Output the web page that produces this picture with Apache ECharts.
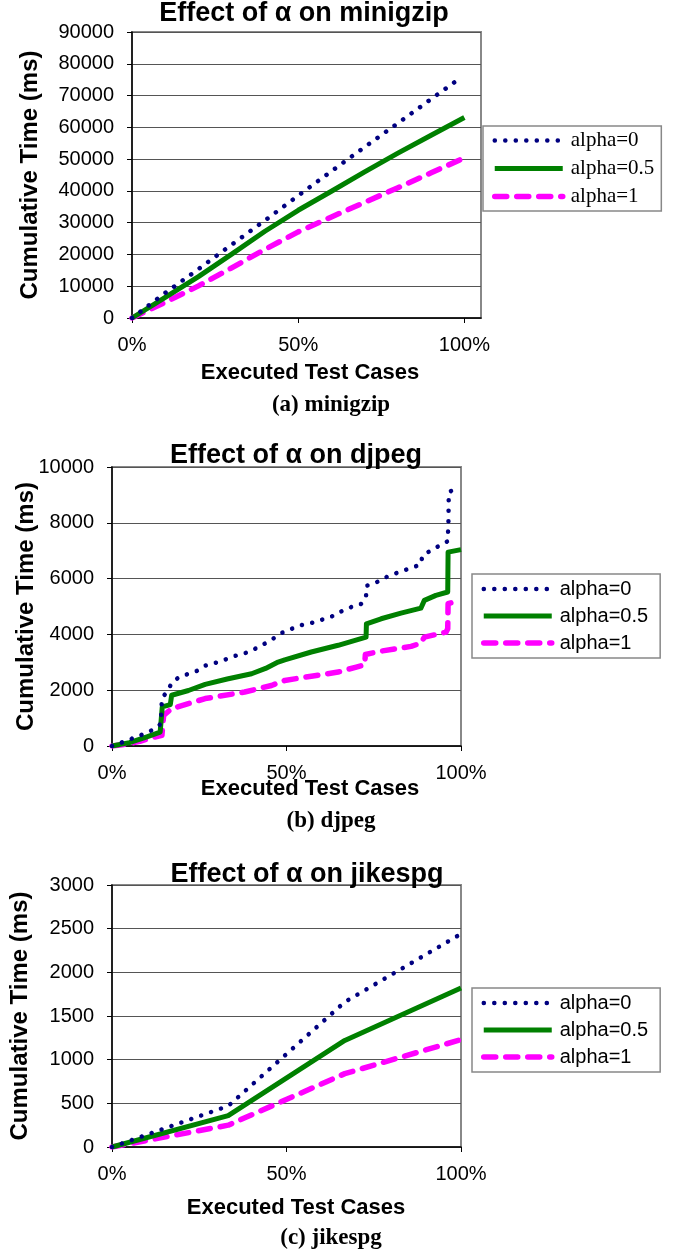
<!DOCTYPE html>
<html>
<head>
<meta charset="utf-8">
<script src="https://cdn.jsdelivr.net/npm/echarts@6/dist/echarts.min.js"></script>
<style>
  html, body { margin: 0; padding: 0; background: #fff; }
  #main { width: 673px; height: 1254px; }
</style>
</head>
<body>
<div id="main"></div>
<script>
// 数据：执行用例百分比 -> 累计时间(ms)
const seriesNames = ['alpha=0', 'alpha=0.5', 'alpha=1'];
const xTicks = [0, 50, 100];

// (a) minigzip
const minigzipA0 = [[0, 0], [10, 7900], [20, 15400], [30, 23100], [40, 30700], [50, 38500], [60, 46200], [70, 53800], [80, 61300], [90, 68900], [97.7, 74700]];
const minigzipA05 = [[0, 0], [10, 6500], [20, 13000], [30, 20100], [40, 27300], [50, 33900], [60, 39900], [70, 46000], [80, 51900], [90, 57500], [100, 63100]];
const minigzipA1 = [[0, 0], [10, 4950], [20, 10100], [30, 15800], [40, 21600], [50, 27100], [60, 31800], [70, 36400], [80, 41000], [90, 45700], [100, 50400]];

// (b) djpeg
const djpegA0 = [[0, 0], [3.8, 170], [10.5, 500], [13, 680], [14, 800], [14.3, 1720], [15.9, 1960], [17.1, 2260], [19, 2450], [21.7, 2580], [24.3, 2690], [26.7, 2880], [30.5, 3010], [33.3, 3140], [36.2, 3270], [39, 3360], [41.4, 3510], [43.8, 3670], [46.2, 3850], [48.6, 4050], [51.1, 4180], [53.8, 4320], [55.2, 4360], [58.1, 4440], [60.9, 4560], [63.8, 4680], [66.2, 4860], [69, 5000], [71.6, 5100], [72.8, 5360], [72.9, 5740], [75.7, 5860], [78.1, 6030], [80.8, 6160], [82.8, 6260], [85.7, 6380], [88.4, 6500], [89, 6830], [91.4, 7010], [93.8, 7180], [96.2, 7340], [96.4, 8000], [96.5, 9100], [99.6, 9280]];
const djpegA05 = [[0, 0], [5, 120], [10, 330], [13.8, 500], [14.3, 560], [14.4, 1400], [16.7, 1480], [17.1, 1820], [21.9, 1990], [26.7, 2210], [33, 2400], [40, 2590], [44, 2780], [47.6, 3010], [49.5, 3090], [57.1, 3370], [64.8, 3610], [72.8, 3900], [72.9, 4380], [77.1, 4560], [82.8, 4760], [88.5, 4940], [89.5, 5220], [92.8, 5400], [96.2, 5520], [96.3, 6950], [100, 7040]];
const djpegA1 = [[0, 0], [4, 60], [8, 170], [11, 280], [14.3, 380], [14.8, 1100], [17.1, 1340], [26.7, 1700], [38, 1935], [45.7, 2170], [49.5, 2350], [57.1, 2500], [64.8, 2650], [70, 2830], [72.4, 2910], [72.6, 3280], [77.1, 3400], [85.7, 3570], [88.5, 3690], [89.5, 3900], [95.7, 4080], [96.2, 4200], [96.3, 5100], [99.5, 5220]];

// (c) jikespg
const jikespgA0 = [[0, 0], [33.3, 470], [66.7, 1660], [100, 2440]];
const jikespgA05 = [[0, 0], [33.3, 360], [66.7, 1220], [100, 1820]];
const jikespgA1 = [[0, 0], [33.3, 250], [66.7, 840], [100, 1230]];

const titles = ['Effect of α on minigzip', 'Effect of α on djpeg', 'Effect of α on jikespg'];
const captions = ['(a) minigzip', '(b) djpeg', '(c) jikespg'];

const SANS = 'Liberation Sans, Arial, sans-serif';
const SERIF = 'Liberation Serif, Times New Roman, serif';

// 线型：点线 / 实线 / 虚线
const styles = [
  { color: '#000080', width: 4.5, type: [0.1, 10.4], cap: 'round' },
  { color: '#008000', width: 5, type: 'solid', cap: 'butt' },
  { color: '#ff00ff', width: 5.5, type: [12, 10], cap: 'round' },
];

// 每个子图的位置
const panels = [
  { grid: { left: 132, top: 32, width: 349, height: 286 }, xMax: 105, yMax: 90000, yStep: 10000,
    title: { x: 304, y: 0 }, legend: { left: 483, top: 126 }, legendFont: SERIF, legendSize: 21, legendPad: [4, 7, 4, 9],
    xName: { gap: 44, shift: 7 }, yName: { gap: 90 }, caption: { x: 331, y: 405 } },
  { grid: { left: 112, top: 467, width: 349, height: 279 }, xMax: 100, yMax: 10000, yStep: 2000,
    title: { x: 296, y: 442 }, legend: { left: 472, top: 574 }, legendFont: SANS, legendSize: 20, legendPad: [5, 12, 5, 9],
    xName: { gap: 32, shift: 47 }, yName: { gap: 74 }, caption: { x: 331, y: 821 } },
  { grid: { left: 112, top: 885, width: 349, height: 262 }, xMax: 100, yMax: 3000, yStep: 500,
    title: { x: 307, y: 861 }, legend: { left: 472, top: 988 }, legendFont: SANS, legendSize: 20, legendPad: [5, 12, 5, 9],
    xName: { gap: 50, shift: 19 }, yName: { gap: 80 }, caption: { x: 331, y: 1238 } },
];
const panelData = [
  [minigzipA0, minigzipA05, minigzipA1],
  [djpegA0, djpegA05, djpegA1],
  [jikespgA0, jikespgA05, jikespgA1],
];

const chart = echarts.init(document.getElementById('main'), null, { renderer: 'canvas' });

const option = {
  backgroundColor: '#fff',
  animation: false,
  title: [],
  legend: [],
  grid: [],
  xAxis: [],
  yAxis: [],
  series: [],
  graphic: [],
};

panels.forEach((p, i) => {
  option.title.push({
    text: titles[i], left: p.title.x, top: p.title.y, textAlign: 'center', padding: 0,
    textStyle: { fontFamily: SANS, fontWeight: 'bold', fontSize: 27, color: '#000' },
  });
  option.grid.push(Object.assign({
    show: true, borderColor: '#888', borderWidth: 2, backgroundColor: '#fff',
    containLabel: false, outerBoundsMode: 'none',
  }, p.grid));
  option.xAxis.push({
    gridIndex: i, type: 'value', min: 0, max: p.xMax,
    name: 'Executed Test Cases', nameLocation: 'middle', nameGap: p.xName.gap, nameMoveOverlap: false,
    nameTextStyle: { fontFamily: SANS, fontWeight: 'bold', fontSize: 22, color: '#000', padding: [0, 0, 0, p.xName.shift] },
    axisLine: { lineStyle: { color: '#000', width: 1.5 } },
    axisTick: { show: true, length: 5, customValues: xTicks, lineStyle: { color: '#000' } },
    axisLabel: { customValues: xTicks, formatter: '{value}%', margin: 17, fontFamily: SANS, fontSize: 20, color: '#000' },
    splitLine: { show: false },
  });
  option.yAxis.push({
    gridIndex: i, type: 'value', min: 0, max: p.yMax, interval: p.yStep,
    name: 'Cumulative Time (ms)', nameLocation: 'middle', nameGap: p.yName.gap, nameMoveOverlap: false,
    nameTextStyle: { fontFamily: SANS, fontWeight: 'bold', fontSize: 24, color: '#000' },
    axisLine: { show: true, lineStyle: { color: '#000', width: 1.5 } },
    axisTick: { show: true, length: 5, lineStyle: { color: '#000' } },
    axisLabel: { margin: 18, fontFamily: SANS, fontSize: 20, color: '#000', formatter: v => String(v) },
    splitLine: { show: true, lineStyle: { color: '#555', width: 1 } },
  });
  option.legend.push({
    orient: 'vertical', left: p.legend.left, top: p.legend.top,
    data: seriesNames.map((n, k) => ({
      name: n,
      itemStyle: { opacity: 0 },
      lineStyle: { color: styles[k].color, width: styles[k].width, type: styles[k].type, cap: styles[k].cap },
    })),
    itemWidth: 68, itemHeight: 14, itemGap: 7,
    padding: p.legendPad, borderColor: '#888', borderWidth: 1.5, backgroundColor: '#fff',
    textStyle: { fontFamily: p.legendFont, fontSize: p.legendSize, color: '#000', padding: [0, 0, 0, 3] },
    selectedMode: false,
  });
  panelData[i].forEach((d, k) => {
    const s = styles[k];
    option.series.push({
      name: seriesNames[k], type: 'line', xAxisIndex: i, yAxisIndex: i,
      data: d, symbol: 'none', smooth: false,
      lineStyle: { color: s.color, width: s.width, type: s.type, cap: s.cap, join: 'round' },
      itemStyle: { color: s.color },
      z: 5 - k,
    });
  });
  option.graphic.push({
    type: 'text', x: p.caption.x, y: p.caption.y,
    style: { text: captions[i], font: 'bold 23px ' + SERIF, fill: '#000', align: 'center', verticalAlign: 'middle' },
  });
});

chart.setOption(option);
window.addEventListener('resize', () => chart.resize());
</script>
</body>
</html>
